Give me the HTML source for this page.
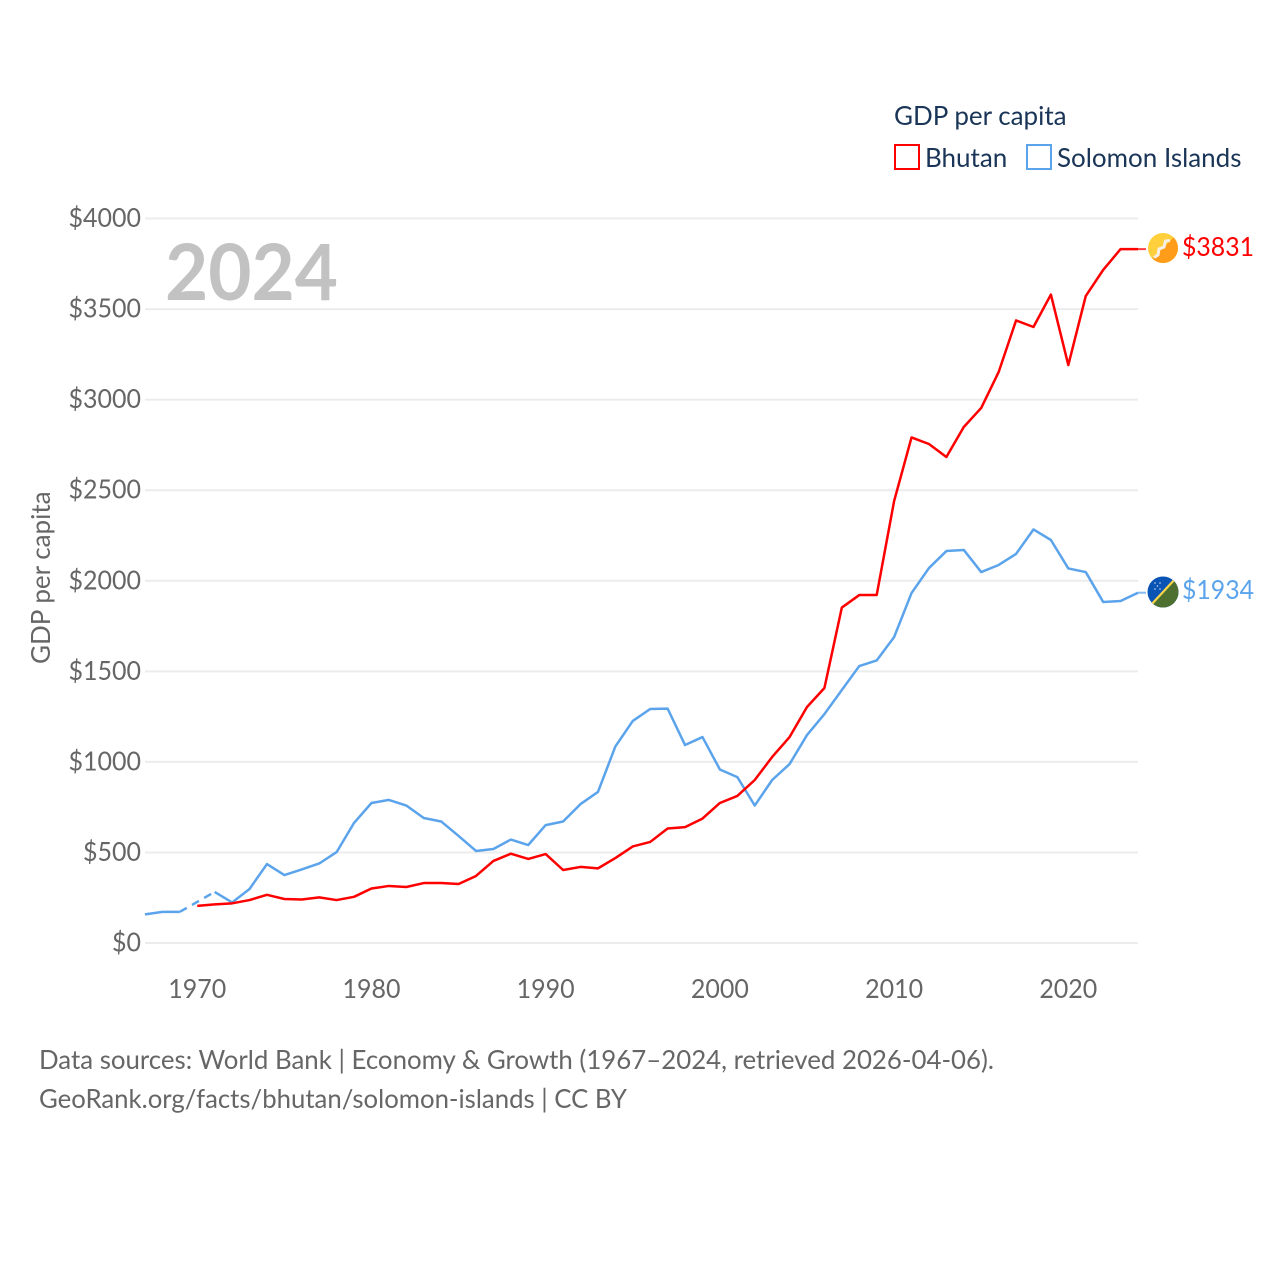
<!DOCTYPE html>
<html lang="en">
<head>
<meta charset="utf-8">
<title>GDP per capita: Bhutan and Solomon Islands</title>
<style>
html,body{margin:0;padding:0;background:#fff;width:1280px;height:1280px;overflow:hidden}
svg{display:block}
text{font-family:"Lato","Carlito","Liberation Sans",sans-serif}
</style>
</head>
<body>
<svg id="chart" xmlns="http://www.w3.org/2000/svg" width="1280" height="1280" viewBox="0 0 1280 1280">
  <g id="grid"></g>
  <g id="yticks"></g>
  <g id="xticks"></g>
  <text x="165" y="300" font-size="78" font-weight="700" fill="#c2c2c2" textLength="173" lengthAdjust="spacingAndGlyphs">2024</text>
  <text transform="translate(50,664) rotate(-90)" font-size="26" fill="#666">GDP per capita</text>
  <g id="series"></g>

  <g>
    <text x="894" y="125" font-size="26" fill="#1a3557">GDP per capita</text>
    <rect x="895" y="145" width="24" height="24" fill="#fff" stroke="#ff0000" stroke-width="2"/>
    <text x="925" y="167" font-size="26" fill="#1a3557">Bhutan</text>
    <rect x="1027" y="145" width="24" height="24" fill="#fff" stroke="#5ba4ec" stroke-width="2"/>
    <text x="1057" y="167" font-size="26" fill="#1a3557">Solomon Islands</text>
  </g>

  <defs>
    <clipPath id="flagClipA"><circle cx="1163" cy="248" r="15"/></clipPath>
    <clipPath id="flagClipB"><circle cx="1163" cy="592" r="15.5"/></clipPath>
  </defs>
  <g clip-path="url(#flagClipA)">
    <rect x="1147" y="232" width="32" height="32" fill="#ffd03b"/>
    <polygon points="1179,232 1179,264 1147,264" fill="#ff9c1a"/>
    <path d="M1170,240.5 L1165.5,241 L1164,247 L1159,249 L1158,255 L1154,257.5" fill="none" stroke="#f6f0e6" stroke-width="3"/>
  </g>
  <g clip-path="url(#flagClipB)">
    <rect x="1146" y="575" width="34" height="34" fill="#0a54b5"/>
    <polygon points="1180,575 1180,609 1146,609" fill="#4d7030"/>
    <line x1="1176" y1="578" x2="1150" y2="606" stroke="#fcd64a" stroke-width="2.2"/>
    <g fill="#c9d9f0">
      <circle cx="1155" cy="583" r="0.8"/><circle cx="1160" cy="583" r="0.8"/><circle cx="1157.5" cy="586" r="0.8"/><circle cx="1155" cy="589" r="0.8"/><circle cx="1160" cy="589" r="0.8"/>
    </g>
  </g>
  <text x="1182" y="256" font-size="26" fill="#ff0000" textLength="72" lengthAdjust="spacingAndGlyphs">$3831</text>
  <text x="1182" y="599" font-size="26" fill="#5ba4ec" textLength="72" lengthAdjust="spacingAndGlyphs">$1934</text>

  <text x="39" y="1069" font-size="26" fill="#666" textLength="955" lengthAdjust="spacingAndGlyphs">Data sources: World Bank | Economy &amp; Growth (1967–2024, retrieved 2026-04-06).</text>
  <text x="39" y="1108" font-size="26" fill="#666" textLength="588" lengthAdjust="spacingAndGlyphs">GeoRank.org/facts/bhutan/solomon-islands | CC BY</text>
</svg>
<script>
var startYear = 1967;
var endYear = 2024;
var yTickValues = [0, 500, 1000, 1500, 2000, 2500, 3000, 3500, 4000];
var xTickYears = [1970, 1980, 1990, 2000, 2010, 2020];
var bhutanValues = [null, null, null,
  205, 213, 219, 237, 266, 243, 240, 252, 237, 255,
  301, 315, 309, 331, 331, 326, 370, 453, 493, 464,
  491, 403, 420, 412, 469, 533, 558, 632, 640, 687,
  773, 812, 900, 1027, 1137, 1303, 1408, 1852, 1921, 1921,
  2440, 2791, 2755, 2683, 2849, 2954, 3152, 3437, 3401, 3580,
  3191, 3572, 3716, 3831, 3831];
var solomonValues = [158, 172, 172,
  null, 282, 224, 298, 436, 375, 406, 439, 502, 663,
  773, 790, 759, 690, 671, 591, 508, 519, 571, 541,
  651, 671, 767, 834, 1085, 1226, 1292, 1294, 1093, 1137,
  958, 916, 759, 900, 988, 1148, 1264, 1397, 1529, 1560,
  1689, 1932, 2070, 2164, 2170, 2048, 2087, 2148, 2283, 2225,
  2068, 2048, 1883, 1888, 1934];

var NS = 'http://www.w3.org/2000/svg';
var digitWidth = 14.5;
function xScale(year) {
  return 145 + (year - startYear) * (1138 - 145) / (endYear - startYear);
}
function yScale(value) {
  return 943 - value * (943 - 218.5) / 4000;
}
function make(tag, attrs, parent) {
  var el = document.createElementNS(NS, tag);
  for (var k in attrs) { el.setAttribute(k, attrs[k]); }
  parent.appendChild(el);
  return el;
}

var grid = document.getElementById('grid');
var yticks = document.getElementById('yticks');
yTickValues.forEach(function (v) {
  var line = make('line', {x1: 145, x2: 1138, y1: yScale(v), y2: yScale(v), stroke: '#ececec', 'stroke-width': 2}, grid);
  
  
  var str = '$' + v;
  var label = make('text', {x: 141, y: yScale(v) + 8.5, 'text-anchor': 'end', 'font-size': 26, fill: '#666', textLength: str.length * digitWidth, lengthAdjust: 'spacingAndGlyphs'}, yticks);
  label.textContent = str;
  
  
});

var xticks = document.getElementById('xticks');
xTickYears.forEach(function (yr) {
  var str = String(yr);
  var label = make('text', {x: xScale(yr), y: 998, 'text-anchor': 'middle', 'font-size': 26, fill: '#666', textLength: str.length * digitWidth, lengthAdjust: 'spacingAndGlyphs'}, xticks);
  label.textContent = str;
  
  
});

var seriesGroup = document.getElementById('series');
function drawSeries(values, color) {
  var solid = '', dashed = '', prev = null, prevIdx = -1;
  values.forEach(function (v, i) {
    if (v === null) { return; }
    var pt = xScale(startYear + i).toFixed(2) + ',' + yScale(v).toFixed(2);
    if (prev === null) {
      solid += 'M' + pt;
    } else if (i === prevIdx + 1) {
      solid += 'L' + pt;
    } else {
      dashed += 'M' + prev + 'L' + pt;
      solid += 'M' + pt;
    }
    prev = pt;
    prevIdx = i;
  });
  var dash = make('path', {d: dashed, fill: 'none', stroke: color, 'stroke-width': 2.5, 'stroke-dasharray': '8 6'}, seriesGroup);
  
  
  var line = make('path', {d: solid, fill: 'none', stroke: color, 'stroke-width': 2.5, 'stroke-linejoin': 'round'}, seriesGroup);
  
  
  var last = values[values.length - 1];
  var conn = make('line', {x1: xScale(endYear), x2: 1146, y1: yScale(last), y2: yScale(last), stroke: color, 'stroke-width': 2, opacity: 0.75}, seriesGroup);
  
  
}
drawSeries(solomonValues, '#5ba4ec');
drawSeries(bhutanValues, '#ff0000');
</script>
</body>
</html>
